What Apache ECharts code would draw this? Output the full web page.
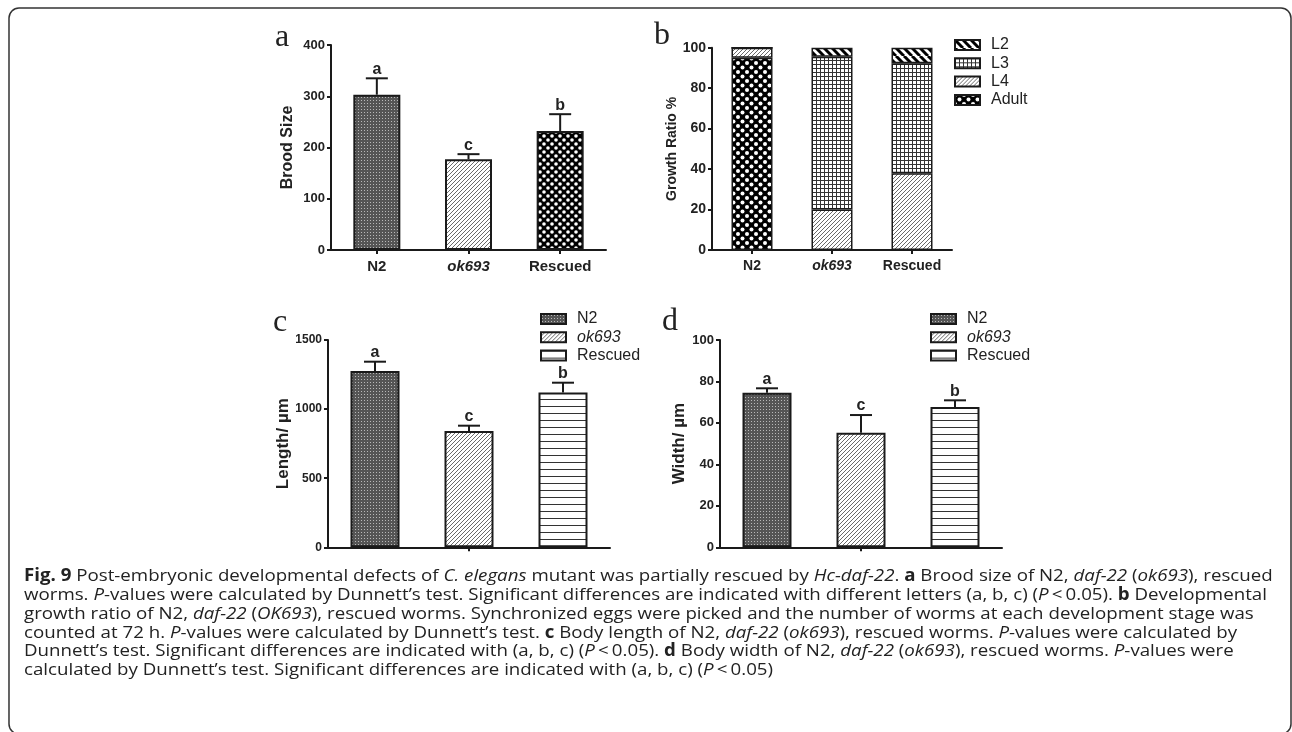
<!DOCTYPE html>
<html><head><meta charset="utf-8">
<script src="https://cdn.jsdelivr.net/npm/echarts@6/dist/echarts.min.js"></script>
<style>html,body{margin:0;padding:0;background:#fff}#c{width:1292px;height:732px}</style>
</head><body><div id="c"></div>
<script>
// ---------- data ----------
const categories = ['N2', 'ok693', 'Rescued'];
const broodMean = [303, 177, 232];
const broodErr = [32, 10, 33];
const broodLetters = ['a', 'c', 'b'];
const broodTicks = [0, 100, 200, 300, 400];

const stageNames = ['L2', 'L3', 'L4', 'Adult'];
const growthAdult = [95, 0, 0];
const growthL4 = [5, 20, 38];
const growthL3 = [0, 75.5, 54.3];
const growthL2 = [0, 4.5, 7.7];
const growthTicks = [0, 20, 40, 60, 80, 100];

const lengthMean = [1276, 841, 1121];
const lengthErr = [67, 39, 70];
const lengthLetters = ['a', 'c', 'b'];
const lengthTicks = [0, 500, 1000, 1500];

const widthMean = [74.6, 55.3, 67.7];
const widthErr = [2.1, 8.5, 3.2];
const widthLetters = ['a', 'c', 'b'];
const widthTicks = [0, 20, 40, 60, 80, 100];

const captionLines = [
  '{b|Fig. 9} Post-embryonic developmental defects of {i|C. elegans} mutant was partially rescued by {i|Hc-daf-22}. {b|a} Brood size of N2, {i|daf-22} ({i|ok693}), rescued',
  'worms. {i|P}-values were calculated by Dunnett\u2019s test. Significant differences are indicated with different letters (a, b, c) ({i|P}\u2009<\u20090.05). {b|b} Developmental',
  'growth ratio of N2, {i|daf-22} ({i|OK693}), rescued worms. Synchronized eggs were picked and the number of worms at each development stage was',
  'counted at 72 h. {i|P}-values were calculated by Dunnett\u2019s test. {b|c} Body length of N2, {i|daf-22} ({i|ok693}), rescued worms. {i|P}-values were calculated by',
  'Dunnett\u2019s test. Significant differences are indicated with (a, b, c) ({i|P}\u2009<\u20090.05). {b|d} Body width of N2, {i|daf-22} ({i|ok693}), rescued worms. {i|P}-values were',
  'calculated by Dunnett\u2019s test. Significant differences are indicated with (a, b, c) ({i|P}\u2009<\u20090.05)'
];

// ---------- styles ----------
const FF = '"Liberation Sans", Arial, sans-serif';
const CF = '"Open Sans", "Noto Sans", sans-serif';
const CS = 17;
const CSX = 1.1;
const INK = '#1a1a1a';

function pat(w, h, draw) {
  const c = document.createElement('canvas');
  c.width = w; c.height = h;
  const g = c.getContext('2d');
  draw(g, w, h);
  return { image: c, repeat: 'repeat' };
}
const P = {
  dots: pat(3, 3, g => { g.fillStyle = '#555'; g.fillRect(0, 0, 3, 3); g.fillStyle = '#b8b8b8'; g.fillRect(1, 1, 1, 1); }),
  hatch: pat(4, 4, g => {
    g.fillStyle = '#fff'; g.fillRect(0, 0, 4, 4);
    g.strokeStyle = '#6a6a6a'; g.lineWidth = 1;
    for (let k = -4; k <= 4; k += 4) { g.beginPath(); g.moveTo(k, 4); g.lineTo(k + 4, 0); g.stroke(); }
  }),
  lattice: pat(8, 8, g => {
    g.fillStyle = '#000'; g.fillRect(0, 0, 8, 8); g.fillStyle = '#fff';
    [[0, 0], [8, 0], [0, 8], [8, 8], [4, 4]].forEach(p => { g.beginPath(); g.arc(p[0], p[1], 1.8, 0, Math.PI * 2); g.fill(); });
  }),
  lattice2: pat(9, 9, g => {
    g.fillStyle = '#000'; g.fillRect(0, 0, 9, 9); g.fillStyle = '#fff';
    [[0, 0], [9, 0], [0, 9], [9, 9], [4.5, 4.5]].forEach(p => { g.beginPath(); g.arc(p[0], p[1], 2.0, 0, Math.PI * 2); g.fill(); });
  }),
  grid: pat(4, 4, g => { g.fillStyle = '#fff'; g.fillRect(0, 0, 4, 4); g.fillStyle = '#333'; g.fillRect(0, 0, 4, 1); g.fillRect(0, 0, 1, 4); }),
  back: pat(8, 8, g => {
    g.fillStyle = '#fff'; g.fillRect(0, 0, 8, 8);
    g.strokeStyle = '#000'; g.lineWidth = 3;
    for (let k = -8; k <= 8; k += 8) { g.beginPath(); g.moveTo(k, 0); g.lineTo(k + 8, 8); g.stroke(); }
  }),
  hlines: pat(4, 7, g => { g.fillStyle = '#fff'; g.fillRect(0, 0, 4, 7); g.fillStyle = '#333'; g.fillRect(0, 0, 4, 1); })
};
const borderStyle = { borderColor: INK, borderWidth: 2 };

function italRich(size) {
  return { i: { fontStyle: 'italic', fontWeight: 'bold', fontSize: size, fontFamily: FF, color: '#222' } };
}

function xCat(gi, data, size, showLabel) {
  return {
    type: 'category', gridIndex: gi, data: data,
    axisLine: { show: true, lineStyle: { color: INK, width: 2 } },
    axisTick: { show: true, alignWithLabel: true, length: 4, lineStyle: { color: INK, width: 2 } },
    axisLabel: {
      show: showLabel, margin: 9, fontWeight: 'bold', fontSize: size, fontFamily: FF, color: '#222',
      formatter: v => v === 'ok693' ? '{i|ok693}' : v, rich: italRich(size)
    },
    splitLine: { show: false }
  };
}
function yVal(gi, ticks, name, nameGap, size, nameSize) {
  return {
    type: 'value', gridIndex: gi, min: ticks[0], max: ticks[ticks.length - 1], interval: ticks[1] - ticks[0],
    name: name, nameLocation: 'middle', nameGap: nameGap,
    nameTextStyle: { fontWeight: 'bold', fontSize: nameSize, fontFamily: FF, color: '#222' },
    axisLine: { show: true, lineStyle: { color: INK, width: 2 } },
    axisTick: { show: true, length: 4, lineStyle: { color: INK, width: 2 } },
    axisLabel: { margin: 6, fontWeight: 'bold', fontSize: size, fontFamily: FF, color: '#222', formatter: v => String(v) },
    splitLine: { show: false }
  };
}

function errSeries(gi, means, errs, letters, offsets, cap) {
  return {
    type: 'custom', xAxisIndex: gi, yAxisIndex: gi, z: 3, silent: true,
    data: means.map((m, i) => [offsets ? 0 : i, m, errs[i], i]),
    renderItem: (params, api) => {
      const i = api.value(3);
      const p0 = api.coord([api.value(0), api.value(1)]);
      const p1 = api.coord([api.value(0), api.value(1) + api.value(2)]);
      const x = p0[0] + (offsets ? offsets[i] : 0);
      const ls = { stroke: INK, lineWidth: 2 };
      return {
        type: 'group', children: [
          { type: 'line', shape: { x1: x, y1: p0[1], x2: x, y2: p1[1] }, style: ls },
          { type: 'line', shape: { x1: x - cap, y1: p1[1], x2: x + cap, y2: p1[1] }, style: ls },
          { type: 'text', style: { text: letters[i], x: x, y: p1[1] - 1, align: 'center', verticalAlign: 'bottom',
              fontSize: 16, fontWeight: 'bold', fontFamily: FF, fill: '#222' } }
        ]
      };
    }
  };
}

const cdBarWidth = 49, cdGap = 45;
const cdOffsets = [-(cdBarWidth + cdGap), 0, cdBarWidth + cdGap];

const chart = echarts.init(document.getElementById('c'), null, { renderer: 'canvas' });

const legendCommon = {
  orient: 'vertical', icon: 'rect', itemWidth: 25, itemHeight: 10, itemGap: 2.3, padding: 0,
  selectedMode: false,
  textStyle: { fontSize: 16, fontFamily: FF, color: '#222', padding: [0, 0, 0, 6], rich: { i: { fontStyle: 'italic', fontSize: 16, fontFamily: FF, color: '#222' } } },
  formatter: n => n === 'ok693' ? '{i|ok693}' : n
};

const letterStyle = (t, x, y) => ({ type: 'text', x: x, y: y, style: { text: t, fontSize: 32, fontFamily: '"Liberation Serif", "DejaVu Serif", serif', fill: '#222', align: 'center', verticalAlign: 'middle' } });

const captionGraphics = captionLines.map((t, k) => ({
  type: 'text', x: 24, y: 576 + k * 18.9, scaleX: CSX,
  style: {
    text: t, x: 0, y: 0, fontSize: CS, fontFamily: CF, fill: '#222', align: 'left', verticalAlign: 'middle',
    rich: {
      b: { fontWeight: 'bold', fontSize: CS, fontFamily: CF, fill: '#222' },
      i: { fontStyle: 'italic', fontSize: CS, fontFamily: CF, fill: '#222' }
    }
  }
}));

chart.setOption({
  animation: false,
  backgroundColor: '#fff',
  grid: [
    { left: 331, top: 45, width: 275, height: 205 },
    { left: 712, top: 47.7, width: 240, height: 202.3 },
    { left: 328, top: 340, width: 282, height: 207.3 },
    { left: 720, top: 340, width: 282, height: 207.3 }
  ],
  xAxis: [
    xCat(0, categories, 15, true),
    xCat(1, categories, 14, true),
    xCat(2, [''], 12, false),
    xCat(3, [''], 12, false)
  ],
  yAxis: [
    yVal(0, broodTicks, 'Brood Size', 35, 13, 16),
    yVal(1, growthTicks, 'Growth Ratio %', 20, 14, 14),
    yVal(2, lengthTicks, 'Length/ \u00b5m', 25, 12, 17),
    yVal(3, widthTicks, 'Width/ \u00b5m', 32, 13, 17)
  ],
  legend: [
    Object.assign({}, legendCommon, { data: stageNames, left: 954, top: 37 }),
    Object.assign({}, legendCommon, { data: categories, left: 540, top: 311 }),
    Object.assign({}, legendCommon, { data: categories, left: 930, top: 311 })
  ],
  series: [
    // panel a
    { type: 'bar', name: 'Brood', xAxisIndex: 0, yAxisIndex: 0, barWidth: 47,
      data: broodMean.map((v, i) => ({ value: v, itemStyle: { color: [P.dots, P.hatch, P.lattice][i] } })),
      itemStyle: borderStyle },
    errSeries(0, broodMean, broodErr, broodLetters, null, 11),
    // panel b (stacked)
    { type: 'bar', name: 'Adult', stack: 'g', xAxisIndex: 1, yAxisIndex: 1, barWidth: 41, data: growthAdult, itemStyle: Object.assign({ color: P.lattice2 }, borderStyle, { borderWidth: 1.5 }) },
    { type: 'bar', name: 'L4', stack: 'g', xAxisIndex: 1, yAxisIndex: 1, barWidth: 41, data: growthL4, itemStyle: Object.assign({ color: P.hatch }, borderStyle, { borderWidth: 1.5 }) },
    { type: 'bar', name: 'L3', stack: 'g', xAxisIndex: 1, yAxisIndex: 1, barWidth: 41, data: growthL3, itemStyle: Object.assign({ color: P.grid }, borderStyle, { borderWidth: 1.5 }) },
    { type: 'bar', name: 'L2', stack: 'g', xAxisIndex: 1, yAxisIndex: 1, barWidth: 41, data: growthL2, itemStyle: Object.assign({ color: P.back }, borderStyle, { borderWidth: 1.5 }) },
    // panel c
    { type: 'bar', name: 'N2', xAxisIndex: 2, yAxisIndex: 2, barWidth: cdBarWidth, barGap: (cdGap / cdBarWidth * 100) + '%', data: [lengthMean[0]], itemStyle: Object.assign({ color: P.dots }, borderStyle) },
    { type: 'bar', name: 'ok693', xAxisIndex: 2, yAxisIndex: 2, barWidth: cdBarWidth, barGap: (cdGap / cdBarWidth * 100) + '%', data: [lengthMean[1]], itemStyle: Object.assign({ color: P.hatch }, borderStyle) },
    { type: 'bar', name: 'Rescued', xAxisIndex: 2, yAxisIndex: 2, barWidth: cdBarWidth, barGap: (cdGap / cdBarWidth * 100) + '%', data: [lengthMean[2]], itemStyle: Object.assign({ color: P.hlines }, borderStyle) },
    errSeries(2, lengthMean, lengthErr, lengthLetters, cdOffsets, 11),
    // panel d
    { type: 'bar', name: 'N2', xAxisIndex: 3, yAxisIndex: 3, barWidth: cdBarWidth, barGap: (cdGap / cdBarWidth * 100) + '%', data: [widthMean[0]], itemStyle: Object.assign({ color: P.dots }, borderStyle) },
    { type: 'bar', name: 'ok693', xAxisIndex: 3, yAxisIndex: 3, barWidth: cdBarWidth, barGap: (cdGap / cdBarWidth * 100) + '%', data: [widthMean[1]], itemStyle: Object.assign({ color: P.hatch }, borderStyle) },
    { type: 'bar', name: 'Rescued', xAxisIndex: 3, yAxisIndex: 3, barWidth: cdBarWidth, barGap: (cdGap / cdBarWidth * 100) + '%', data: [widthMean[2]], itemStyle: Object.assign({ color: P.hlines }, borderStyle) },
    errSeries(3, widthMean, widthErr, widthLetters, cdOffsets, 11)
  ],
  graphic: [
    { type: 'rect', shape: { x: 9, y: 8, width: 1282, height: 726, r: 10 }, style: { fill: 'none', stroke: '#333', lineWidth: 1.5 }, silent: true, z: 0 },
    letterStyle('a', 282, 38),
    letterStyle('b', 662, 36),
    letterStyle('c', 280, 323),
    letterStyle('d', 670, 322)
  ].concat(captionGraphics)
});
</script>
</body></html>
